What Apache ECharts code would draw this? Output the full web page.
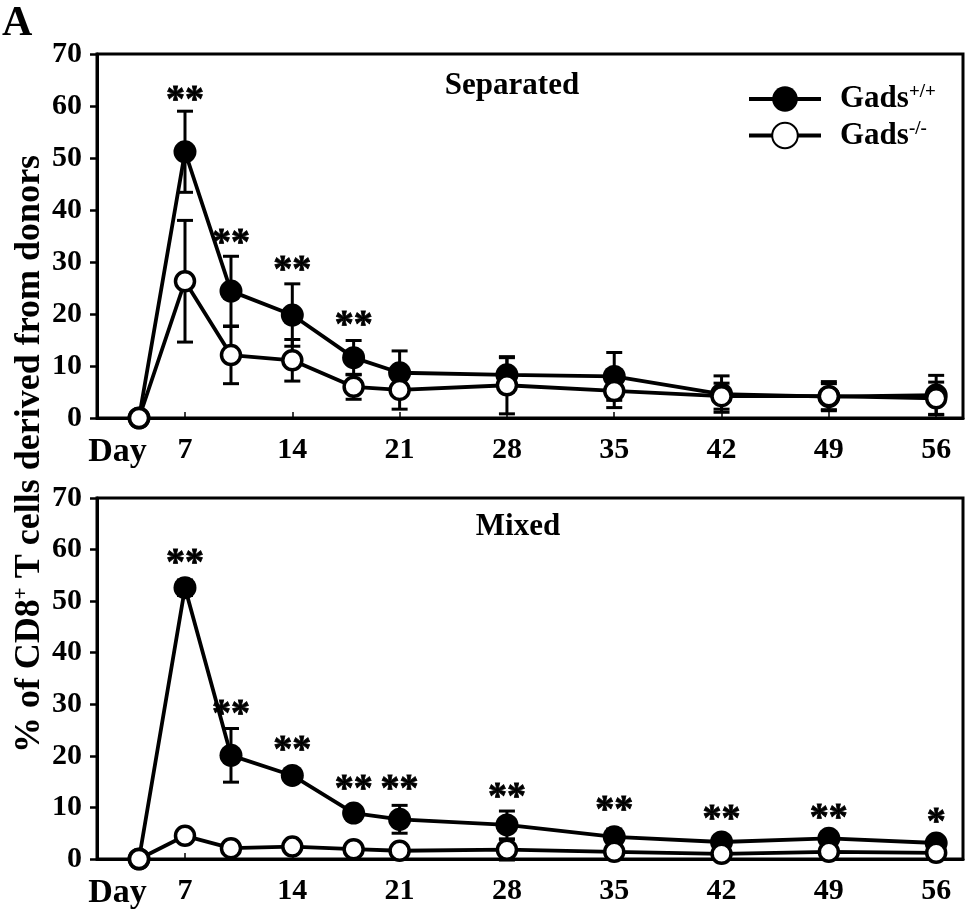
<!DOCTYPE html>
<html>
<head>
<meta charset="utf-8">
<script src="https://cdn.jsdelivr.net/npm/echarts@6/dist/echarts.min.js"></script>
<style>
html,body{margin:0;padding:0;background:#fff;}
#chart{width:975px;height:911px;}
</style>
</head>
<body>
<div id="chart"></div>
<script>
// ---------- data ----------
const days = [4, 7, 10, 14, 18, 21, 28, 35, 42, 49, 56];
const xLabelValues = [2.6, 7, 14, 21, 28, 35, 42, 49, 56];
const xLabelTexts = ['Day', '7', '14', '21', '28', '35', '42', '49', '56'];
const xTickValues = [7, 14, 21, 28, 35, 42, 49, 56];

// Separated
const sepWT    = [0, 51.2, 24.4, 19.8, 11.6, 8.7, 8.3, 8.0, 4.6, 4.1, 4.4];
const sepWTerr = [0, 7.8, 6.7, 6.0, 3.3, 4.2, 3.3, 4.6, 3.5, 2.5, 3.8];
const sepKO    = [0, 26.3, 12.1, 11.1, 6.0, 5.4, 6.3, 5.2, 4.2, 4.2, 3.8];
const sepKOerr = [0, 11.7, 5.5, 4.0, 2.4, 3.7, 5.5, 3.2, 2.5, 2.8, 3.1];
const sepStarDays = [7, 10, 14, 18];
const sepStarY    = [62.5, 35, 29.8, 19.2];
const sepStarText = ['**', '**', '**', '**'];

// Mixed
const mixWT    = [0, 52.6, 20.1, 16.2, 8.9, 7.7, 6.6, 4.3, 3.3, 4.0, 3.1];
const mixWTerr = [0, 1.5, 5.2, 0.8, 0.8, 2.7, 2.7, 1.5, 1.0, 1.2, 1.0];
const mixKO    = [0, 4.5, 2.1, 2.4, 1.9, 1.6, 1.8, 1.4, 1.0, 1.4, 1.2];
const mixKOerr = [0, 0.8, 0.5, 0.5, 0.5, 0.5, 2.0, 0.5, 0.5, 0.5, 0.5];
const mixStarDays = [7, 10, 14, 18, 21, 28, 35, 42, 49, 56];
const mixStarY    = [58.8, 29.4, 22.4, 14.9, 14.9, 13.3, 10.8, 9.1, 9.3, 8.5];
const mixStarText = ['**', '**', '**', '**', '**', '**', '**', '**', '**', '*'];

const panelTitles = ['Separated', 'Mixed'];
const seriesNames = ['Gads+/+', 'Gads-/-'];

// ---------- chart ----------
const FONT = '"Liberation Serif", "Times New Roman", serif';
const chart = echarts.init(document.getElementById('chart'), null, {renderer: 'canvas'});

function xAxisCfg(gi) {
  return {
    type: 'value', gridIndex: gi, min: 1.26, max: 57.75,
    axisLine: {show: true, lineStyle: {color: '#000', width: 3}},
    axisTick: {show: true, customValues: xTickValues, inside: true, length: 6, lineStyle: {color: '#000', width: 1.5}},
    axisLabel: {
      customValues: xLabelValues,
      formatter: function (v) {
        for (let i = 0; i < xLabelValues.length; i++) {
          if (Math.abs(xLabelValues[i] - v) < 1e-6) {
            return i === 0 ? '{d|' + xLabelTexts[i] + '}' : xLabelTexts[i];
          }
        }
        return '';
      },
      margin: 17, fontSize: 30, fontWeight: 'bold', fontFamily: FONT, color: '#000',
      rich: {d: {fontSize: 34, fontWeight: 'bold', fontFamily: FONT, color: '#000'}}
    },
    splitLine: {show: false}
  };
}
function yAxisCfg(gi) {
  return {
    type: 'value', gridIndex: gi, min: 0, max: 70, interval: 10,
    axisLine: {show: true, lineStyle: {color: '#000', width: 3}},
    axisTick: {show: true, inside: false, length: 7, lineStyle: {color: '#000', width: 2.5}},
    axisLabel: {margin: 15, fontSize: 30, fontWeight: 'bold', fontFamily: FONT, color: '#000'},
    splitLine: {show: false}
  };
}

function errSeries(gi, vals, errs) {
  return {
    type: 'custom', xAxisIndex: gi, yAxisIndex: gi, z: 1, silent: true,
    data: days.map((d, i) => [d, vals[i], errs[i]]),
    renderItem: function (params, api) {
      const x = api.value(0), y = api.value(1), e = api.value(2);
      if (!e) return null;
      const top = api.coord([x, y + e]);
      const bot = api.coord([x, y - e]);
      const hw = 8;
      const st = {stroke: '#000', lineWidth: 3};
      return {
        type: 'group',
        children: [
          {type: 'line', shape: {x1: top[0], y1: top[1], x2: bot[0], y2: bot[1]}, style: st},
          {type: 'line', shape: {x1: top[0] - hw, y1: top[1], x2: top[0] + hw, y2: top[1]}, style: st},
          {type: 'line', shape: {x1: bot[0] - hw, y1: bot[1], x2: bot[0] + hw, y2: bot[1]}, style: st}
        ]
      };
    }
  };
}
function wtSeries(gi, vals) {
  return {
    name: seriesNames[0], type: 'line', xAxisIndex: gi, yAxisIndex: gi, z: 3,
    data: days.map((d, i) => [d, vals[i]]),
    symbol: 'circle', symbolSize: 23,
    itemStyle: {color: '#000'},
    lineStyle: {color: '#000', width: 3.8},
    emphasis: {disabled: true}
  };
}
function koSeries(gi, vals) {
  return {
    name: seriesNames[1], type: 'line', xAxisIndex: gi, yAxisIndex: gi, z: 4,
    data: days.map((d, i) => [d, vals[i]]),
    symbol: 'circle', symbolSize: 19,
    itemStyle: {color: '#fff', borderColor: '#000', borderWidth: 3.5},
    lineStyle: {color: '#000', width: 3.8},
    emphasis: {disabled: true}
  };
}
function starSeries(gi, sd, sy, st) {
  return {
    type: 'scatter', xAxisIndex: gi, yAxisIndex: gi, z: 5, silent: true,
    symbolSize: 0.5, itemStyle: {color: '#000', opacity: 1},
    emphasis: {disabled: true},
    data: sd.map((d, i) => [d, sy[i], st[i]]),
    label: {
      show: true, position: 'inside',
      formatter: p => p.value[2],
      fontSize: 38, fontWeight: 'bold', fontFamily: FONT, color: '#000',
      textBorderWidth: 0.8, textBorderColor: '#000', opacity: 1,
      offset: [0, 8]
    }
  };
}

const option = {
  backgroundColor: '#fff',
  animation: false,
  grid: [
    {left: 97, top: 54, width: 866, height: 364, show: true, borderColor: '#000', borderWidth: 3, outerBoundsMode: 'none'},
    {left: 97, top: 498, width: 866, height: 361, show: true, borderColor: '#000', borderWidth: 3, outerBoundsMode: 'none'}
  ],
  xAxis: [xAxisCfg(0), xAxisCfg(1)],
  yAxis: [yAxisCfg(0), yAxisCfg(1)],
  legend: {
    left: 742, top: 78, orient: 'vertical', itemGap: 5,
    itemWidth: 72, itemHeight: 32,
    data: seriesNames,
    selectedMode: false,
    lineStyle: {width: 4, color: '#000'},
    formatter: function (name) {
      return name === seriesNames[0] ? '{g|}{b|Gads}{s|+/+}' : '{g|}{b|Gads}{s|-/-}';
    },
    textStyle: {
      rich: {
        g: {width: 14},
        b: {fontSize: 31, fontWeight: 'bold', fontFamily: FONT, color: '#000', lineHeight: 32},
        s: {fontSize: 19, fontWeight: 'bold', fontFamily: FONT, color: '#000', verticalAlign: 'top', lineHeight: 19}
      }
    }
  },
  graphic: [
    {type: 'text', left: 2, top: 3, style: {text: 'A', font: 'bold 42px ' + FONT, fill: '#000'}},
    {type: 'text', x: 512, y: 86, style: {text: panelTitles[0], font: 'bold 31px ' + FONT, fill: '#000', align: 'center', verticalAlign: 'middle'}},
    {type: 'text', x: 518, y: 527, style: {text: panelTitles[1], font: 'bold 31px ' + FONT, fill: '#000', align: 'center', verticalAlign: 'middle'}},
    {type: 'text', x: 30, y: 454, rotation: Math.PI / 2,
     style: {
       text: '{t|% of CD8}{u|+}{t| T cells derived from donors}',
       align: 'center', verticalAlign: 'middle',
       rich: {
         t: {font: 'bold 36px ' + FONT, fill: '#000', lineHeight: 38},
         u: {font: 'bold 21px ' + FONT, fill: '#000', verticalAlign: 'top', lineHeight: 21}
       }
     }}
  ],
  series: [
    errSeries(0, sepWT, sepWTerr),
    errSeries(0, sepKO, sepKOerr),
    wtSeries(0, sepWT),
    koSeries(0, sepKO),
    starSeries(0, sepStarDays, sepStarY, sepStarText),
    errSeries(1, mixWT, mixWTerr),
    errSeries(1, mixKO, mixKOerr),
    wtSeries(1, mixWT),
    koSeries(1, mixKO),
    starSeries(1, mixStarDays, mixStarY, mixStarText)
  ]
};
chart.setOption(option);
</script>
</body>
</html>
